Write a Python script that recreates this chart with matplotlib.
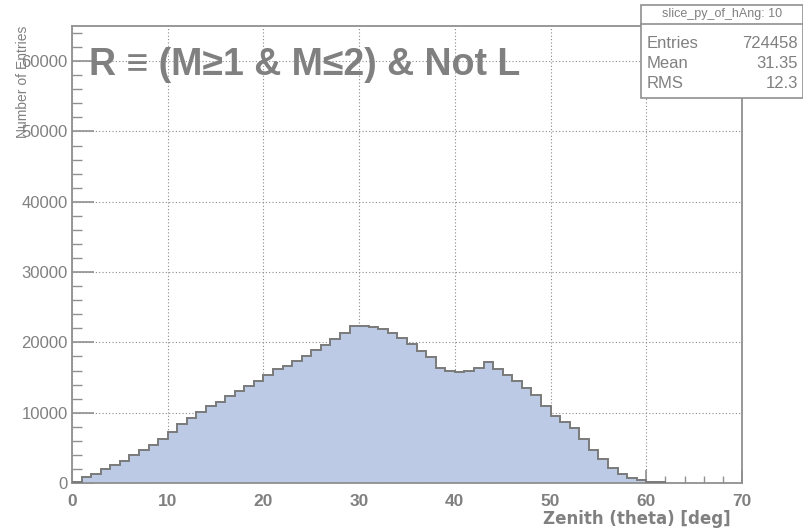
import matplotlib
matplotlib.use("Agg")
import matplotlib.pyplot as plt
from matplotlib.patches import Rectangle
from matplotlib.ticker import MultipleLocator

# zenith histogram, 1 degree bins from 0 to 62
bin_edges = list(range(0, 63))
counts = [
    100, 806, 1327, 2038, 2559, 3175, 3934, 4739, 5450, 6256,
    7299, 8341, 9194, 10047, 10900, 11564, 12417, 13128, 13791, 14502,
    15308, 16161, 16682, 17393, 18057, 18910, 19621, 20427, 21327, 22322,
    22300, 22133, 21848, 21374, 20640, 19790, 18768, 17867, 16351, 15924,
    15735, 15877, 16351, 17204, 16161, 15355, 14550, 13460, 12559, 10900,
    9573, 8720, 7820, 6256, 4739, 3365, 2133, 1327, 758, 474,
    100, 100,
]
x_ticks = [0, 10, 20, 30, 40, 50, 60, 70]
y_ticks = [0, 10000, 20000, 30000, 40000, 50000, 60000]
stats_title = "slice_py_of_hAng: 10"
stats_rows = [("Entries", "724458"), ("Mean", "31.35"), ("RMS", "12.3")]
cut_label = "R \u2261 (M\u22651 & M\u22642) & Not L"

W, H = 804, 529
gray = "#808080"
fill_col = "#bdcae6"
fonts = ["Liberation Sans", "DejaVu Sans"]
plt.rcParams["font.family"] = fonts


def fx(px):
    return px / W


def fy(py):
    return 1 - py / H


fig = plt.figure(figsize=(W / 100, H / 100), dpi=100)
ax = fig.add_axes([fx(72), fy(483), fx(742) - fx(72), fy(26) - fy(483)])

ax.stairs(counts, bin_edges, fill=True, color=fill_col, zorder=2)
ax.stairs(counts, bin_edges, color="#7a7a7a", lw=1.4, zorder=3)

ax.set_xlim(0, 70)
ax.set_ylim(0, 65000)
ax.set_xticks(x_ticks)
ax.set_yticks(y_ticks)
ax.xaxis.set_minor_locator(MultipleLocator(2))
ax.yaxis.set_minor_locator(MultipleLocator(2000))
ax.grid(True, which="major", ls=(0, (1, 2)), color="#8a8a8a", lw=0.8, zorder=1)

for s in ax.spines.values():
    s.set_color("#909090")
    s.set_linewidth(1.3)

ax.tick_params(axis="x", which="major", direction="in", length=9.5, width=1.2, color="#909090",
               labelcolor=gray, labelsize=12.5, pad=8)
ax.tick_params(axis="x", which="minor", direction="in", length=5, width=1.0, color="#909090")
ax.tick_params(axis="y", which="major", direction="in", length=16, width=1.2, color="#909090",
               labelcolor=gray, labelsize=12, pad=3)
ax.tick_params(axis="y", which="minor", direction="in", length=7, width=1.0, color="#909090")
for lab in ax.get_xticklabels():
    lab.set_fontweight("bold")

ax.set_xlabel("Zenith (theta) [deg]", loc="right", fontsize=12, fontweight="bold", color=gray,
              family="DejaVu Sans")
ax.xaxis.set_label_coords((731 - 72) / 670, (483 - 510) / 457)
ax.set_ylabel("Number of Entries", loc="top", fontsize=10, color=gray)
ax.yaxis.set_label_coords((30 - 72) / 670, 1.0)

ax.text((89 - 72) / 670, (483 - 75) / 457, cut_label, transform=ax.transAxes,
        fontsize=27, fontweight="bold", color=gray, va="baseline", ha="left", zorder=5)

# stats box in the top right corner
box_l, box_r, box_t, box_b, sep = 641, 803, 5, 98, 24
fig.patches.append(Rectangle((fx(box_l), fy(box_b)), fx(box_r) - fx(box_l), fy(box_t) - fy(box_b),
                             transform=fig.transFigure, facecolor="white", edgecolor="#909090",
                             lw=1.2, zorder=10))
fig.add_artist(plt.Line2D([fx(box_l), fx(box_r)], [fy(sep), fy(sep)], transform=fig.transFigure,
                          color="#909090", lw=1.2, zorder=11))
fig.text(fx((box_l + box_r) / 2), fy((box_t + sep) / 2), stats_title, ha="center", va="center",
         fontsize=9, color=gray, zorder=12)
for i, (name, val) in enumerate(stats_rows):
    yc = fy(43 + i * 20.5)
    fig.text(fx(647), yc, name, ha="left", va="center", fontsize=12, color=gray, zorder=12)
    fig.text(fx(798), yc, val, ha="right", va="center", fontsize=12, color=gray, zorder=12)

fig.savefig("out.png", dpi=100, facecolor="white")
